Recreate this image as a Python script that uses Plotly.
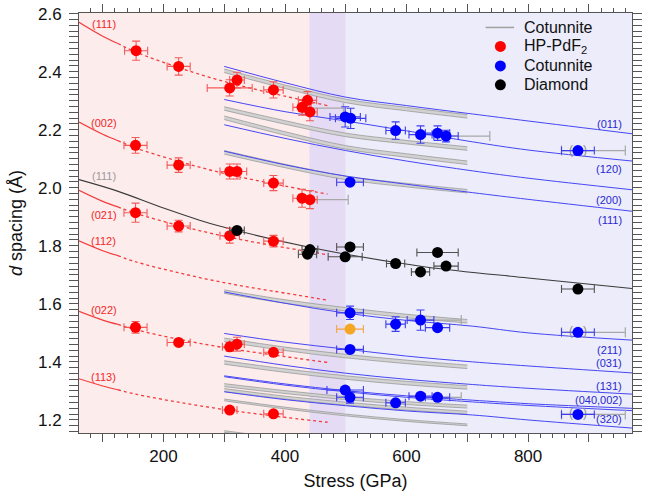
import plotly.graph_objects as go

FONT = "Liberation Sans, Arial, sans-serif"

# ---------------- data ----------------
# HP-PdF2 calculated d-spacing curves (red)
red_curve_p = [61, 100, 125, 154, 225, 300, 380, 470]
red_111 = [2.570, 2.522, 2.497, 2.468, 2.414, 2.366, 2.325, 2.283]
red_002 = [2.226, 2.184, 2.162, 2.137, 2.091, 2.049, 2.014, 1.978]
red_021 = [1.991, 1.953, 1.934, 1.912, 1.870, 1.833, 1.801, 1.769]
red_112 = [1.817, 1.783, 1.766, 1.745, 1.707, 1.673, 1.644, 1.613]
red_022 = [1.574, 1.544, 1.529, 1.511, 1.478, 1.449, 1.424, 1.398]
red_113 = [1.342, 1.317, 1.304, 1.289, 1.261, 1.236, 1.214, 1.192]
red_labels = ["(111)", "(002)", "(021)", "(112)", "(022)", "(113)"]

# Cotunnite calculated d-spacing curves (blue)
blue_curve_p = [300, 400, 500, 600, 709, 800, 971]
blue_011 = [2.418, 2.362, 2.312, 2.283, 2.254, 2.230, 2.186]
blue_120 = [2.304, 2.262, 2.230, 2.196, 2.158, 2.130, 2.092]
blue_200 = [2.217, 2.170, 2.128, 2.092, 2.058, 2.033, 1.993]
blue_111 = [2.126, 2.079, 2.040, 2.012, 1.983, 1.960, 1.919]
blue_211 = [1.641, 1.602, 1.568, 1.543, 1.523, 1.500, 1.475]
blue_031 = [1.498, 1.468, 1.444, 1.420, 1.400, 1.386, 1.362]
blue_131 = [1.420, 1.388, 1.361, 1.340, 1.322, 1.309, 1.289]
blue_040 = [1.352, 1.324, 1.301, 1.283, 1.268, 1.256, 1.240]
blue_002 = [1.349, 1.320, 1.297, 1.278, 1.262, 1.250, 1.232]
blue_320 = [1.297, 1.270, 1.249, 1.231, 1.217, 1.200, 1.172]
blue_labels = ["(011)", "(120)", "(200)", "(111)", "(211)", "(031)",
               "(131)", "(040,002)", "(320)"]

# Cotunnite calculated bands (grey), centre values and half-width
grey_p = [300, 400, 500, 600, 700]
grey_a = [2.403, 2.348, 2.299, 2.271, 2.246]
grey_b = [2.273, 2.225, 2.182, 2.157, 2.135]
grey_c = [2.241, 2.187, 2.139, 2.111, 2.086]
grey_d = [2.122, 2.075, 2.034, 2.009, 1.988]
grey_e = [1.642, 1.608, 1.581, 1.558, 1.540]
grey_f = [1.476, 1.445, 1.420, 1.400, 1.383]
grey_g = [1.398, 1.370, 1.346, 1.327, 1.312]
grey_h = [1.320, 1.296, 1.275, 1.258, 1.246]
grey_i = [1.303, 1.277, 1.256, 1.239, 1.225]
grey_j = [1.269, 1.241, 1.217, 1.198, 1.183]
grey_k = [1.160, 1.133, 1.110, 1.092, 1.078]
grey_half = [0.006, 0.006, 0.006, 0.006, 0.006, 0.006, 0.006,
             0.005, 0.005, 0.003, 0.003]

# Diamond (111) curve (black)
dia_curve_p = [61, 122, 200, 257, 289, 440, 629, 800, 971]
dia_curve_d = [2.028, 1.990, 1.930, 1.890, 1.870, 1.795, 1.728, 1.689, 1.653]

# measured points
red_p = [155, 225, 309, 321, 381, 428, 437, 441,
         154, 225, 309, 321, 381, 428, 441,
         154, 225, 309, 381,
         154, 225, 309, 321, 381,
         309, 381]
red_d = [2.472, 2.418, 2.344, 2.371, 2.337, 2.277, 2.301, 2.261,
         2.146, 2.078, 2.056, 2.056, 2.016, 1.964, 1.959,
         1.914, 1.868, 1.835, 1.816,
         1.519, 1.467, 1.452, 1.461, 1.433,
         1.234, 1.221]
red_xerr = [19, 19, 37, 12, 16, 15, 15, 12,
            19, 19, 16, 16, 16, 15, 12,
            19, 19, 16, 16,
            19, 19, 12, 12, 16,
            12, 16]
red_yerr = [0.033, 0.030, 0.028, 0.027, 0.028, 0.027, 0.030, 0.030,
            0.027, 0.025, 0.026, 0.026, 0.026, 0.031, 0.031,
            0.033, 0.020, 0.026, 0.020,
            0.020, 0.0, 0.015, 0.024, 0.0,
            0.0, 0.0]

blue_p = [499, 508, 582, 623, 651, 665, 882, 507,
          507, 582, 623, 651, 882, 507,
          499, 507, 582, 623, 651, 882]
blue_d = [2.244, 2.239, 2.197, 2.183, 2.188, 2.178, 2.128, 2.019,
          1.569, 1.530, 1.544, 1.518, 1.502, 1.443,
          1.303, 1.278, 1.259, 1.282, 1.278, 1.219]
blue_xerr = [25, 25, 16, 19, 20, 20, 27, 22,
             22, 16, 22, 20, 27, 22,
             30, 22, 16, 19, 20, 27]
blue_yerr = [0.035, 0.035, 0.030, 0.030, 0.025, 0.020, 0.0, 0.0,
             0.023, 0.025, 0.035, 0.0, 0.0, 0.0,
             0.0, 0.020, 0.0, 0.0, 0.0, 0.0]

dia_p = [321, 441, 437, 507, 499, 582, 623, 651, 665, 882]
dia_d = [1.853, 1.787, 1.771, 1.796, 1.762, 1.739, 1.710, 1.777, 1.730, 1.651]
dia_xerr = [12, 13, 15, 22, 28, 15, 15, 34, 20, 27]

orange_p = [507]
orange_d = [1.513]
orange_xerr = [22]

# extended (grey) stress uncertainties
ext_p = [428, 441, 665, 882, 882, 882, 623, 651]
ext_d = [2.274, 1.959, 2.178, 2.128, 1.502, 1.219, 1.544, 1.278]
ext_plus = [68, 63, 72, 78, 78, 78, 67, 39]
ext_minus = [0, 0, 0, 27, 27, 27, 0, 0]

# bracketed points
paren_p = [882, 882, 882]
paren_d = [2.128, 1.502, 1.219]

# stress regions
region_edges = [61, 440, 500, 971]

# legend entries
legend_names = ["Cotunnite", "HP-PdF<sub>2</sub>", "Cotunnite", "Diamond"]

# ---------------- styles ----------------
RED_LINE = "#f23c3c"
RED_MARK = "#ff0000"
RED_ERR = "#f25a5a"
BLUE_LINE = "#4646f5"
BLUE_MARK = "#0000ff"
BLUE_ERR = "#3c3cf0"
GREY_LINE = "#9a9a9a"
GREY_FILL = "#d2d2d2"
AXIS = "#555555"

fig = go.Figure()

# grey bands (lower edge, then upper edge filled to it)
for centre, hw in zip([grey_a, grey_b, grey_c, grey_d, grey_e, grey_f,
                       grey_g, grey_h, grey_i, grey_j, grey_k], grey_half):
    upper = [v + hw for v in centre]
    lower = [v - hw for v in centre]
    fig.add_trace(go.Scatter(x=grey_p, y=lower, mode="lines",
                             line=dict(color=GREY_LINE, width=0.8, shape="spline"),
                             showlegend=False, hoverinfo="skip"))
    fig.add_trace(go.Scatter(x=grey_p, y=upper, mode="lines", fill="tonexty",
                             fillcolor=GREY_FILL,
                             line=dict(color=GREY_LINE, width=0.8, shape="spline"),
                             showlegend=False, hoverinfo="skip"))

# blue curves
for curve in [blue_011, blue_120, blue_200, blue_111, blue_211, blue_031,
              blue_131, blue_040, blue_002, blue_320]:
    fig.add_trace(go.Scatter(x=blue_curve_p, y=curve, mode="lines",
                             line=dict(color=BLUE_LINE, width=1, shape="spline"),
                             showlegend=False, hoverinfo="skip"))

# red curves: solid then dotted
for curve in [red_111, red_002, red_021, red_112, red_022, red_113]:
    fig.add_trace(go.Scatter(x=red_curve_p[:3], y=curve[:3], mode="lines",
                             line=dict(color=RED_LINE, width=1.2, shape="spline"),
                             showlegend=False, hoverinfo="skip"))
    fig.add_trace(go.Scatter(x=red_curve_p[2:], y=curve[2:], mode="lines",
                             line=dict(color=RED_LINE, width=1.3, dash="dot",
                                       shape="spline"),
                             showlegend=False, hoverinfo="skip"))

# diamond curve
fig.add_trace(go.Scatter(x=dia_curve_p, y=dia_curve_d, mode="lines",
                         line=dict(color="#3a3a3a", width=1.1, shape="spline"),
                         showlegend=False, hoverinfo="skip"))

# grey extended error bars
fig.add_trace(go.Scatter(x=ext_p, y=ext_d, mode="markers",
                         marker=dict(size=1, color="rgba(0,0,0,0)"),
                         error_x=dict(type="data", symmetric=False, array=ext_plus,
                                      arrayminus=ext_minus, color="#a8a8a8",
                                      thickness=1.2, width=5),
                         showlegend=False, hoverinfo="skip"))

# brackets
fig.add_trace(go.Scatter(x=paren_p, y=paren_d, mode="text", text=["(   )"] * 3,
                         textfont=dict(size=12, color="#8c8c8c", family=FONT),
                         showlegend=False, hoverinfo="skip"))

# points
fig.add_trace(go.Scatter(x=red_p, y=red_d, mode="markers", showlegend=False,
                         marker=dict(size=11, color=RED_MARK),
                         error_x=dict(type="data", array=red_xerr, color=RED_ERR,
                                      thickness=1.1, width=4),
                         error_y=dict(type="data", array=red_yerr, color=RED_ERR,
                                      thickness=1.1, width=4)))
fig.add_trace(go.Scatter(x=blue_p, y=blue_d, mode="markers", showlegend=False,
                         marker=dict(size=11, color=BLUE_MARK),
                         error_x=dict(type="data", array=blue_xerr, color=BLUE_ERR,
                                      thickness=1.1, width=4),
                         error_y=dict(type="data", array=blue_yerr, color=BLUE_ERR,
                                      thickness=1.1, width=4)))
fig.add_trace(go.Scatter(x=dia_p, y=dia_d, mode="markers", showlegend=False,
                         marker=dict(size=11, color="#000000"),
                         error_x=dict(type="data", array=dia_xerr, color="#505050",
                                      thickness=1.1, width=4)))
fig.add_trace(go.Scatter(x=orange_p, y=orange_d, mode="markers", showlegend=False,
                         marker=dict(size=11, color="#f5a623"),
                         error_x=dict(type="data", array=orange_xerr, color="#f2a640",
                                      thickness=1.1, width=4)))

# helper trace for the unlabeled major ticks axis
fig.add_trace(go.Scatter(x=[None], y=[None], xaxis="x2", showlegend=False,
                         hoverinfo="skip"))

# background regions
region_colors = ["#fdecec", "#e6dbf4", "#ececfa"]
shapes = []
for i, col in enumerate(region_colors):
    shapes.append(dict(type="rect", xref="x", yref="paper",
                       x0=region_edges[i], x1=region_edges[i + 1], y0=0, y1=1,
                       fillcolor=col, line=dict(width=0), layer="below"))

# manual legend
leg_rows = [0.9656, 0.9204, 0.8741, 0.829]
leg_colors = ["#a0a0a0", RED_MARK, BLUE_MARK, "#000000"]
shapes.append(dict(type="line", xref="paper", yref="paper", x0=0.7353, x1=0.7869,
                   y0=leg_rows[0], y1=leg_rows[0],
                   line=dict(color=leg_colors[0], width=1.5)))
for r, c in zip(leg_rows[1:], leg_colors[1:]):
    shapes.append(dict(type="circle", xref="paper", yref="paper",
                       xsizemode="pixel", ysizemode="pixel",
                       xanchor=0.762, yanchor=r, x0=-5.5, x1=5.5, y0=-5.5, y1=5.5,
                       fillcolor=c, line=dict(width=0)))

# labels
red_label_d = [2.564, 2.222, 1.907, 1.816, 1.578, 1.349]
blue_label_d = [2.218, 2.063, 1.959, 1.888, 1.441, 1.395, 1.317, 1.269, 1.203]
annotations = []
for t, yv in zip(red_labels, red_label_d):
    annotations.append(dict(x=102, y=yv, text=t, showarrow=False, xanchor="center",
                            yanchor="middle", font=dict(size=11, color="#f02828",
                                                        family=FONT)))
annotations.append(dict(x=102, y=2.042, text="(111)", showarrow=False,
                        xanchor="center", yanchor="middle",
                        font=dict(size=11, color="#9a9a9a", family=FONT)))
for t, yv in zip(blue_labels, blue_label_d):
    annotations.append(dict(x=958, y=yv, text=t, showarrow=False, xanchor="right",
                            yanchor="middle", font=dict(size=11, color="#2828d2",
                                                        family=FONT)))
for name, r in zip(legend_names, leg_rows):
    annotations.append(dict(xref="paper", yref="paper", x=0.801, y=r, text=name,
                            showarrow=False, xanchor="left", yanchor="middle",
                            font=dict(size=16, color="#111111", family=FONT)))

axis_common = dict(showline=True, linecolor=AXIS, linewidth=1, mirror="allticks",
                   ticks="outside", tickcolor=AXIS, showgrid=False, zeroline=False,
                   tickfont=dict(size=17, color="#111111", family=FONT))

fig.update_layout(
    width=646, height=493,
    margin=dict(l=79, r=4, t=12, b=60),
    paper_bgcolor="white", plot_bgcolor="white",
    font=dict(family=FONT),
    showlegend=False,
    shapes=shapes, annotations=annotations,
    xaxis=dict(range=[61, 971], tickvals=[200, 400, 600, 800],
               ticklen=8, minor=dict(dtick=20, tick0=0, ticklen=4, ticks="outside",
                                     tickcolor=AXIS),
               title=dict(text="Stress (GPa)", font=dict(size=18, color="#111111",
                                                         family=FONT), standoff=8),
               **axis_common),
    xaxis2=dict(overlaying="x", side="bottom", range=[61, 971],
                tickvals=[100, 300, 500, 700, 900], ticklen=8, ticks="outside",
                tickcolor=AXIS, showticklabels=False, showline=True,
                linecolor=AXIS, linewidth=1, mirror="allticks", showgrid=False,
                zeroline=False),
    yaxis=dict(range=[1.155, 2.602], tickvals=[1.2, 1.4, 1.6, 1.8, 2.0, 2.2, 2.4, 2.6],
               ticktext=["1.2", "1.4", "1.6", "1.8", "2.0", "2.2", "2.4", "2.6"],
               ticklen=9, ticklabelstandoff=4,
               minor=dict(dtick=0.02, tick0=0, ticklen=5, ticks="outside",
                          tickcolor=AXIS),
               title=dict(text="<i>d</i> spacing (Å)",
                          font=dict(size=18, color="#111111", family=FONT),
                          standoff=10),
               **axis_common),
)

fig.write_html("out.html")
